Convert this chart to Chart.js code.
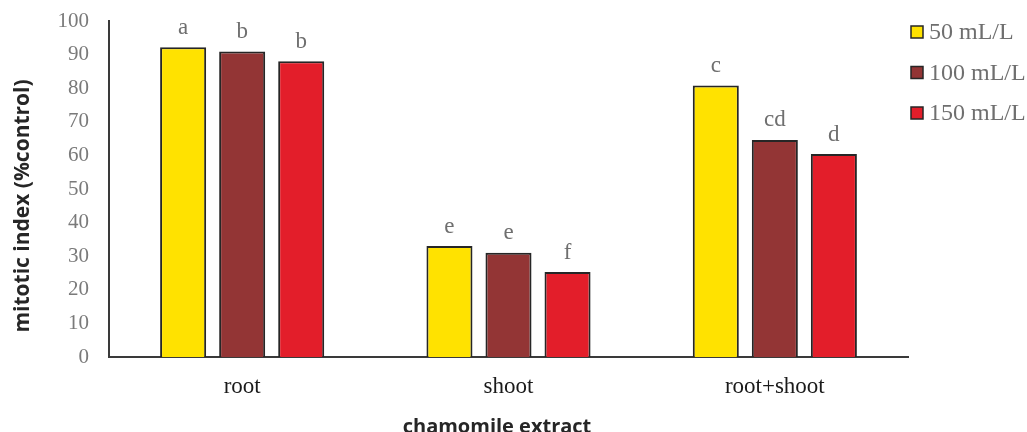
<!DOCTYPE html>
<html>
<head>
<meta charset="utf-8">
<script src="https://cdn.jsdelivr.net/npm/chart.js@4"></script>
<style>
  html, body { margin: 0; padding: 0; background: #fff; }
  #wrap { width: 1027px; height: 432px; }
</style>
</head>
<body>
<div id="wrap"><canvas id="chart" width="1027" height="432"></canvas></div>
<script>
// data
const categories = ['root', 'shoot', 'root+shoot'];
const seriesNames = ['50 mL/L', '100 mL/L', '150 mL/L'];
const values50 = [92.2, 33.0, 80.8];
const values100 = [90.9, 31.0, 64.6];
const values150 = [88.0, 25.3, 60.4];
const letters50 = ['a', 'e', 'c'];
const letters100 = ['b', 'e', 'cd'];
const letters150 = ['b', 'f', 'd'];
const yTicks = [0, 10, 20, 30, 40, 50, 60, 70, 80, 90, 100];

const colors = ['#FFE200', '#933535', '#E31E2A'];
const serif = '"Liberation Serif", "Times New Roman", serif';

// letters above bars + legend + axis titles
const annotate = {
    id: 'annotate',
    afterDatasetsDraw(chart) {
        const ctx = chart.ctx;
        const letterSets = [letters50, letters100, letters150];
        ctx.save();
        ctx.font = '23px ' + serif;
        ctx.fillStyle = '#6f6f6f';
        ctx.textAlign = 'center';
        ctx.textBaseline = 'bottom';
        chart.data.datasets.forEach((ds, i) => {
            chart.getDatasetMeta(i).data.forEach((bar, j) => {
                ctx.fillText(letterSets[i][j], bar.x, bar.y - 8);
            });
        });

        // legend
        ctx.textAlign = 'left';
        ctx.textBaseline = 'middle';
        ctx.font = '24px ' + serif;
        seriesNames.forEach((name, i) => {
            const y = 32 + i * 40.5;
            ctx.fillStyle = colors[i];
            ctx.fillRect(911, y - 6, 12, 12);
            ctx.strokeStyle = '#262626';
            ctx.lineWidth = 1.5;
            ctx.strokeRect(911, y - 6, 12, 12);
            ctx.fillStyle = '#6f6f6f';
            ctx.fillText(name, 929, y + 1);
        });

        // axis titles
        ctx.fillStyle = '#262626';
        ctx.textAlign = 'center';
        ctx.font = 'bold 20px "Open Sans", sans-serif';
        ctx.fillText('chamomile extract', 497, 427);
        ctx.font = 'bold 21px "Open Sans", sans-serif';
        ctx.translate(23, 206);
        ctx.rotate(-Math.PI / 2);
        ctx.fillText('mitotic index (%control)', 0, 0);
        ctx.restore();
    }
};

const ctx = document.getElementById('chart').getContext('2d');

new Chart(ctx, {
    type: 'bar',
    data: {
        labels: categories,
        datasets: [values50, values100, values150].map((vals, i) => ({
            label: seriesNames[i],
            data: vals,
            backgroundColor: colors[i],
            borderColor: '#262626',
            borderWidth: 2,
            barPercentage: 0.78,
            categoryPercentage: 0.665
        }))
    },
    options: {
        responsive: false,
        animation: false,
        layout: { padding: { left: 0, right: 119, top: 21, bottom: 0 } },
        plugins: {
            legend: { display: false },
            tooltip: { enabled: false }
        },
        scales: {
            x: {
                grid: { display: false, drawTicks: false },
                border: { color: '#3a3a3a', width: 2 },
                ticks: {
                    color: '#1a1a1a',
                    padding: 16,
                    font: { family: serif, size: 23 }
                },
                afterFit(scale) {
                    scale.height = 75;
                    scale.paddingLeft = 0;
                    scale.paddingRight = 0;
                }
            },
            y: {
                min: 0,
                max: 100,
                afterBuildTicks(scale) { scale.ticks = yTicks.map(v => ({ value: v })); },
                grid: { display: false, drawTicks: false },
                border: { color: '#3a3a3a', width: 2 },
                ticks: {
                    color: '#7a7a7a',
                    padding: 20,
                    font: { family: serif, size: 21 }
                },
                afterFit(scale) {
                    scale.width = 109;
                    scale.paddingTop = 0;
                    scale.paddingBottom = 0;
                }
            }
        }
    },
    plugins: [annotate]
});
</script>
</body>
</html>
